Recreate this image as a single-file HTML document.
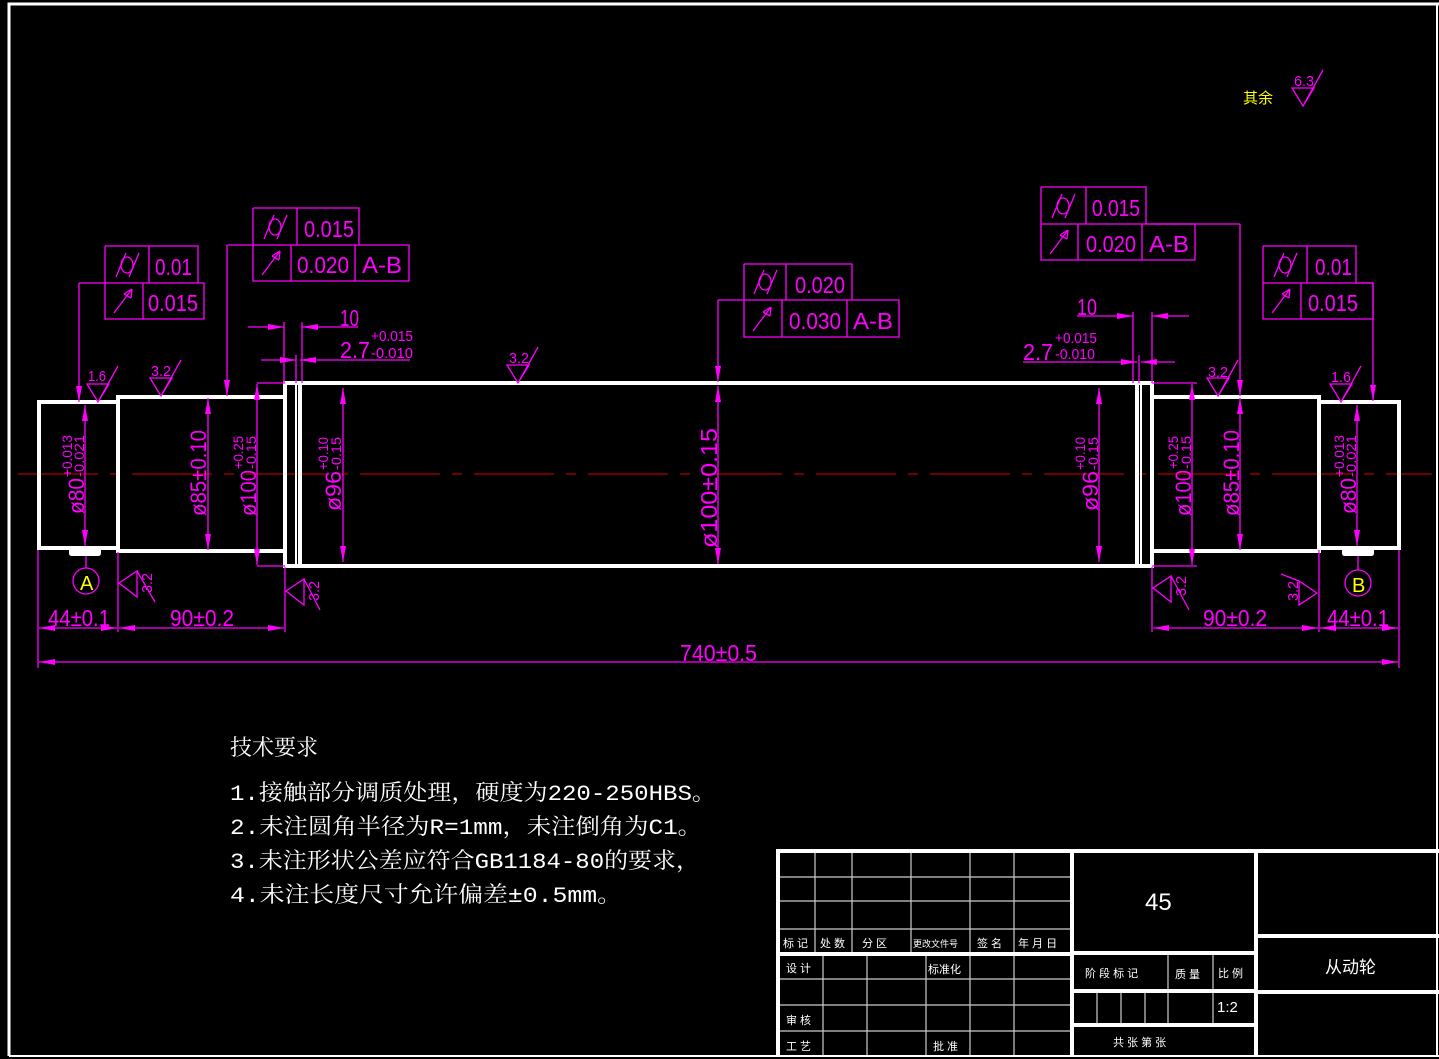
<!DOCTYPE html>
<html><head><meta charset="utf-8"><style>
html,body{margin:0;padding:0;background:#000;width:1439px;height:1059px;overflow:hidden}
svg{display:block}
.m{fill:#ff00ff;font-family:"Liberation Sans Narrow","Liberation Sans",sans-serif}
.w{fill:#fff;font-family:"Liberation Sans","Noto Sans CJK SC",sans-serif}
.tx{fill:#fff;font-family:"Liberation Mono","Noto Serif CJK SC",monospace;font-size:22px}
</style></head><body>
<svg width="1439" height="1059" viewBox="0 0 1439 1059" xmlns="http://www.w3.org/2000/svg">
<defs>
<marker id="ar" viewBox="0 0 16 6" refX="16" refY="3" markerWidth="16" markerHeight="6" markerUnits="userSpaceOnUse" orient="auto-start-reverse"><path d="M0,0 L16,3 L0,6 Z" fill="#ff00ff"/></marker>
<g id="cyl" stroke="#ff00ff" stroke-width="1.3" fill="none"><line x1="-11" y1="12" x2="-1" y2="-12"/><line x1="2" y1="12" x2="12" y2="-12"/><ellipse cx="0" cy="0" rx="6" ry="8"/></g>
<g id="run" stroke="#ff00ff" stroke-width="1.3" fill="none"><line x1="-10" y1="12" x2="8" y2="-12"/><path d="M8,-12 L0,-7 M8,-12 L7,-3 M0,-7 L7,-3"/></g>
</defs>
<rect width="1439" height="1059" fill="#000"/>
<path d="M9,1056 L9,4 L1439,4" stroke="#fff" stroke-width="3" fill="none"/>
<line x1="9" y1="1056" x2="1439" y2="1056" stroke="#fff" stroke-width="2"/>
<line x1="1437" y1="4" x2="1437" y2="1056" stroke="#fff" stroke-width="2"/>

<line x1="18" y1="474" x2="1432" y2="474" stroke="#b00000" stroke-width="1.3" stroke-dasharray="80,12,10,12"/>

<g stroke="#fff" stroke-width="4" fill="none">
<rect x="39" y="402" width="79" height="146"/>
<rect x="118" y="397" width="167" height="154"/>
<rect x="285" y="383" width="15" height="183"/>
<rect x="300" y="383" width="837" height="183"/>
<rect x="1137" y="383" width="15" height="183"/>
<rect x="1152" y="397" width="167" height="154"/>
<rect x="1319" y="402" width="80" height="146"/>
</g>
<line x1="296" y1="385" x2="296" y2="564" stroke="#fff" stroke-width="2"/>
<line x1="1141" y1="385" x2="1141" y2="564" stroke="#fff" stroke-width="2"/>
<path d="M69,548 L69,553 Q69,556 72,556 L98,556 Q101,556 101,553 L101,548 Z" fill="#fff"/>
<path d="M1342,548 L1342,553 Q1342,556 1345,556 L1371,556 Q1374,556 1374,553 L1374,548 Z" fill="#fff"/>

<g stroke="#ff00ff" stroke-width="1.3" fill="none">
<line x1="85" y1="405" x2="85" y2="546" marker-start="url(#ar)" marker-end="url(#ar)"/>
<line x1="208" y1="398" x2="208" y2="550" marker-start="url(#ar)" marker-end="url(#ar)"/>
<line x1="257" y1="384" x2="257" y2="565" marker-start="url(#ar)" marker-end="url(#ar)"/>
<line x1="343" y1="388" x2="343" y2="562" marker-start="url(#ar)" marker-end="url(#ar)"/>
<line x1="718" y1="386" x2="718" y2="564" marker-start="url(#ar)" marker-end="url(#ar)"/>
<line x1="1099" y1="388" x2="1099" y2="562" marker-start="url(#ar)" marker-end="url(#ar)"/>
<line x1="1192" y1="384" x2="1192" y2="565" marker-start="url(#ar)" marker-end="url(#ar)"/>
<line x1="1240" y1="398" x2="1240" y2="550" marker-start="url(#ar)" marker-end="url(#ar)"/>
<line x1="1357" y1="405" x2="1357" y2="546" marker-start="url(#ar)" marker-end="url(#ar)"/>
<path d="M257,383 H285 M257,566 H285 M1152,383 H1197 M1152,566 H1197"/>
<path d="M38,550 V668 M118,552 V632 M285,567 V632 M1152,567 V632 M1319,550 V632 M1399,550 V668"/>
<line x1="39" y1="628" x2="117" y2="628" marker-start="url(#ar)" marker-end="url(#ar)"/>
<line x1="119" y1="628" x2="284" y2="628" marker-start="url(#ar)" marker-end="url(#ar)"/>
<line x1="1153" y1="628" x2="1318" y2="628" marker-start="url(#ar)" marker-end="url(#ar)"/>
<line x1="1320" y1="628" x2="1398" y2="628" marker-start="url(#ar)" marker-end="url(#ar)"/>
<line x1="39" y1="662" x2="1398" y2="662" marker-start="url(#ar)" marker-end="url(#ar)"/>
<path d="M284,322 V383 M302,322 V383 M296,355 V383"/>
<line x1="248" y1="327" x2="284" y2="327" marker-end="url(#ar)"/>
<line x1="358" y1="327" x2="302" y2="327" marker-end="url(#ar)"/>
<line x1="261" y1="360" x2="296" y2="360" marker-end="url(#ar)"/>
<line x1="410" y1="360" x2="300" y2="360" marker-end="url(#ar)"/>
<path d="M1133,312 V383 M1152,312 V383 M1139,355 V383"/>
<line x1="1077" y1="316" x2="1133" y2="316" marker-end="url(#ar)"/>
<line x1="1189" y1="316" x2="1152" y2="316" marker-end="url(#ar)"/>
<line x1="1023" y1="362" x2="1137" y2="362" marker-end="url(#ar)"/>
<line x1="1175" y1="362" x2="1141" y2="362" marker-end="url(#ar)"/>

<path d="M105,246 H198 V283 M105,246 V319 H204 V283 H105 M149,246 V283 M143,283 V319"/>
<line x1="105" y1="283" x2="79" y2="283"/><line x1="79" y1="283" x2="79" y2="402" marker-end="url(#ar)"/>
<path d="M253,208 H359 V245 M253,208 V281 H409 V245 H253 M297,208 V245 M291,245 V281 M355,245 V281"/>
<line x1="253" y1="245" x2="227" y2="245"/><line x1="227" y1="245" x2="227" y2="396" marker-end="url(#ar)"/>
<path d="M744,264 H852 V300 M744,264 V337 H899 V300 H744 M786,264 V300 M782,300 V337 M847,300 V337"/>
<line x1="744" y1="300" x2="718" y2="300"/><line x1="718" y1="300" x2="718" y2="382" marker-end="url(#ar)"/>
<path d="M1041,187 H1146 V224 M1041,187 V260 H1195 V224 H1041 M1086,187 V224 M1078,224 V260 M1142,224 V260"/>
<line x1="1146" y1="224" x2="1240" y2="224"/><line x1="1240" y1="224" x2="1240" y2="396" marker-end="url(#ar)"/>
<path d="M1263,246 H1356 V283 M1263,246 V319 H1373 V283 H1263 M1307,246 V283 M1301,283 V319"/>
<line x1="1356" y1="283" x2="1373" y2="283"/><line x1="1373" y1="283" x2="1373" y2="401" marker-end="url(#ar)"/>

<circle cx="86" cy="581" r="13"/><line x1="86" y1="556" x2="86" y2="568"/>
<circle cx="1358" cy="583" r="13"/><line x1="1358" y1="556" x2="1358" y2="570"/>

<!-- roughness symbols -->
<path d="M87,384 H109 L98,402 Z M98,402 L118,366"/>
<path d="M150,378 H172 L161,396 Z M161,396 L181,360"/>
<path d="M507,365 H529 L518,383 Z M518,383 L538,347"/>
<path d="M1207,378 H1229 L1218,396 Z M1218,396 L1238,360"/>
<path d="M1330,384 H1352 L1341,402 Z M1341,402 L1361,366"/>
<path d="M1292,88 H1314 L1303,106 Z M1303,106 L1323,70"/>

<path d="M119,583 L137,571 L137,597 Z M137,571 L155,602"/>
<path d="M286,591 L304,579 L304,605 Z M304,579 L320,610"/>
<path d="M1153,588 L1171,576 L1171,602 Z M1171,576 L1189,610"/>
<path d="M1317,593 L1299,581 L1299,605 Z M1299,581 L1281,574"/>
</g>
<use href="#cyl" x="127" y="265"/><use href="#run" x="124" y="301"/>
<use href="#cyl" x="275" y="227"/><use href="#run" x="272" y="263"/>
<use href="#cyl" x="765" y="282"/><use href="#run" x="763" y="319"/>
<use href="#cyl" x="1063" y="206"/><use href="#run" x="1060" y="242"/>
<use href="#cyl" x="1285" y="265"/><use href="#run" x="1282" y="301"/>

<g class="m" font-size="23">
<text x="155" y="275" textLength="37" lengthAdjust="spacingAndGlyphs">0.01</text>
<text x="148" y="311" textLength="50" lengthAdjust="spacingAndGlyphs">0.015</text>
<text x="304" y="237" textLength="50" lengthAdjust="spacingAndGlyphs">0.015</text>
<text x="297" y="273" textLength="52" lengthAdjust="spacingAndGlyphs">0.020</text>
<text x="362" y="273" textLength="40" lengthAdjust="spacingAndGlyphs">A-B</text>
<text x="795" y="293" textLength="50" lengthAdjust="spacingAndGlyphs">0.020</text>
<text x="789" y="329" textLength="52" lengthAdjust="spacingAndGlyphs">0.030</text>
<text x="853" y="329" textLength="40" lengthAdjust="spacingAndGlyphs">A-B</text>
<text x="1092" y="216" textLength="48" lengthAdjust="spacingAndGlyphs">0.015</text>
<text x="1086" y="252" textLength="50" lengthAdjust="spacingAndGlyphs">0.020</text>
<text x="1149" y="252" textLength="40" lengthAdjust="spacingAndGlyphs">A-B</text>
<text x="1315" y="275" textLength="37" lengthAdjust="spacingAndGlyphs">0.01</text>
<text x="1308" y="311" textLength="50" lengthAdjust="spacingAndGlyphs">0.015</text>
<text x="340" y="326" textLength="19" lengthAdjust="spacingAndGlyphs">10</text>
<text x="340" y="358" textLength="30" lengthAdjust="spacingAndGlyphs">2.7</text>
<text x="1077" y="315" textLength="20" lengthAdjust="spacingAndGlyphs">10</text>
<text x="1023" y="360" textLength="30" lengthAdjust="spacingAndGlyphs">2.7</text>
<text x="48" y="626" textLength="62" lengthAdjust="spacingAndGlyphs">44±0.1</text>
<text x="170" y="626" textLength="64" lengthAdjust="spacingAndGlyphs">90±0.2</text>
<text x="1203" y="626" textLength="64" lengthAdjust="spacingAndGlyphs">90±0.2</text>
<text x="1327" y="626" textLength="62" lengthAdjust="spacingAndGlyphs">44±0.1</text>
<text x="680" y="661" textLength="77" lengthAdjust="spacingAndGlyphs">740±0.5</text>
</g>
<g class="m" font-size="15">
<text x="371" y="341" textLength="42" lengthAdjust="spacingAndGlyphs">+0.015</text>
<text x="371" y="358" textLength="42" lengthAdjust="spacingAndGlyphs">-0.010</text>
<text x="1055" y="343" textLength="42" lengthAdjust="spacingAndGlyphs">+0.015</text>
<text x="1055" y="359" textLength="40" lengthAdjust="spacingAndGlyphs">-0.010</text>
<text x="88" y="381" textLength="18" lengthAdjust="spacingAndGlyphs">1.6</text>
<text x="151" y="376" textLength="20" lengthAdjust="spacingAndGlyphs">3.2</text>
<text x="509" y="363" textLength="20" lengthAdjust="spacingAndGlyphs">3.2</text>
<text x="1208" y="377" textLength="20" lengthAdjust="spacingAndGlyphs">3.2</text>
<text x="1331" y="382" textLength="20" lengthAdjust="spacingAndGlyphs">1.6</text>
<text x="1294" y="86" textLength="20" lengthAdjust="spacingAndGlyphs">6.3</text>
<text transform="translate(152,593) rotate(-90)" textLength="20" lengthAdjust="spacingAndGlyphs">3.2</text>
<text transform="translate(319,601) rotate(-90)" textLength="20" lengthAdjust="spacingAndGlyphs">3.2</text>
<text transform="translate(1186,596) rotate(-90)" textLength="20" lengthAdjust="spacingAndGlyphs">3.2</text>
<text transform="translate(1298,601) rotate(-90)" textLength="20" lengthAdjust="spacingAndGlyphs">3.2</text>
</g>
<g class="m">
<g transform="translate(84,514) rotate(-90)"><text font-size="22" textLength="36" lengthAdjust="spacingAndGlyphs">ø80</text><text x="37" y="-12" font-size="14" textLength="42" lengthAdjust="spacingAndGlyphs">+0.013</text><text x="37" y="0" font-size="14" textLength="42" lengthAdjust="spacingAndGlyphs">-0.021</text></g>
<g transform="translate(206,516) rotate(-90)"><text font-size="22" textLength="86" lengthAdjust="spacingAndGlyphs">ø85±0.10</text></g>
<g transform="translate(256,516) rotate(-90)"><text font-size="22" textLength="46" lengthAdjust="spacingAndGlyphs">ø100</text><text x="47" y="-13" font-size="14" textLength="33" lengthAdjust="spacingAndGlyphs">+0.25</text><text x="47" y="0" font-size="14" textLength="33" lengthAdjust="spacingAndGlyphs">-0.15</text></g>
<g transform="translate(341,511) rotate(-90)"><text font-size="22" textLength="40" lengthAdjust="spacingAndGlyphs">ø96</text><text x="41" y="-13" font-size="14" textLength="33" lengthAdjust="spacingAndGlyphs">+0.10</text><text x="41" y="0" font-size="14" textLength="33" lengthAdjust="spacingAndGlyphs">-0.15</text></g>
<g transform="translate(717,548) rotate(-90)"><text font-size="23" textLength="120" lengthAdjust="spacingAndGlyphs">ø100±0.15</text></g>
<g transform="translate(1098,511) rotate(-90)"><text font-size="22" textLength="40" lengthAdjust="spacingAndGlyphs">ø96</text><text x="41" y="-13" font-size="14" textLength="33" lengthAdjust="spacingAndGlyphs">+0.10</text><text x="41" y="0" font-size="14" textLength="33" lengthAdjust="spacingAndGlyphs">-0.15</text></g>
<g transform="translate(1191,516) rotate(-90)"><text font-size="22" textLength="46" lengthAdjust="spacingAndGlyphs">ø100</text><text x="47" y="-13" font-size="14" textLength="33" lengthAdjust="spacingAndGlyphs">+0.25</text><text x="47" y="0" font-size="14" textLength="33" lengthAdjust="spacingAndGlyphs">-0.15</text></g>
<g transform="translate(1239,516) rotate(-90)"><text font-size="22" textLength="86" lengthAdjust="spacingAndGlyphs">ø85±0.10</text></g>
<g transform="translate(1356,514) rotate(-90)"><text font-size="22" textLength="36" lengthAdjust="spacingAndGlyphs">ø80</text><text x="37" y="-12" font-size="14" textLength="42" lengthAdjust="spacingAndGlyphs">+0.013</text><text x="37" y="0" font-size="14" textLength="42" lengthAdjust="spacingAndGlyphs">-0.021</text></g>
</g>
<text x="80" y="590" fill="#ffff00" font-family="Liberation Sans Narrow,Liberation Sans,sans-serif" font-size="20">A</text>
<text x="1352" y="592" fill="#ffff00" font-family="Liberation Sans Narrow,Liberation Sans,sans-serif" font-size="20">B</text>
<text x="1243" y="103" fill="#ffff00" font-family="Liberation Sans,Noto Sans CJK SC,sans-serif" font-size="15">其余</text>

<text class="tx" x="230" y="755">技术要求</text>
<text class="tx" x="230" y="800" textLength="486" lengthAdjust="spacingAndGlyphs">1.接触部分调质处理，硬度为220-250HBS。</text>
<text class="tx" x="230" y="834" textLength="472" lengthAdjust="spacingAndGlyphs">2.未注圆角半径为R=1mm，未注倒角为C1。</text>
<text class="tx" x="230" y="868" textLength="470" lengthAdjust="spacingAndGlyphs">3.未注形状公差应符合GB1184-80的要求，</text>
<text class="tx" x="230" y="902" textLength="392" lengthAdjust="spacingAndGlyphs">4.未注长度尺寸允许偏差±0.5mm。</text>

<g stroke="#ccc" stroke-width="1.2" fill="none">
<path d="M780,877 H1070 M780,901 H1070 M780,929 H1070 M815,853 V953 M852,853 V953 M911,853 V953 M970,853 V953 M1014,853 V953"/>
<path d="M780,979 H1070 M780,1005 H1070 M780,1031 H1070 M823,955 V1055 M867,955 V1055 M926,955 V1055 M970,955 V1055 M1014,955 V1055"/>
<path d="M1168,955 V990 M1213,955 V1023 M1097,993 V1023 M1121,993 V1023 M1145,993 V1023 M1168,993 V1023"/>
</g>
<g stroke="#fff" stroke-width="4" fill="none">
<path d="M778,1056 V851 H1439"/>
<path d="M1072,851 V1056 M1256,851 V1056 M778,954 H1072 M1072,953 H1256 M1072,991 H1256 M1072,1025 H1256 M1256,936 H1439 M1256,992 H1439"/>
</g>
<g class="w" font-size="11">
<text x="783" y="947">标 记</text><text x="820" y="947">处 数</text><text x="862" y="947">分  区</text><text x="913" y="947" font-size="9">更改文件号</text><text x="977" y="947">签 名</text><text x="1018" y="947">年 月 日</text>
<text x="786" y="972">设 计</text><text x="928" y="973">标准化</text><text x="786" y="1024">审 核</text><text x="786" y="1050">工 艺</text><text x="933" y="1050">批 准</text>
<text x="1085" y="977">阶 段 标 记</text><text x="1175" y="978">质 量</text><text x="1218" y="977">比 例</text>
<text x="1113" y="1046">共    张  第    张</text>
</g>
<text class="w" x="1145" y="910" font-size="24">45</text>
<text class="w" x="1217" y="1012" font-size="15">1:2</text>
<text class="w" x="1325" y="973" font-size="17">从动轮</text>
</svg>
</body></html>
